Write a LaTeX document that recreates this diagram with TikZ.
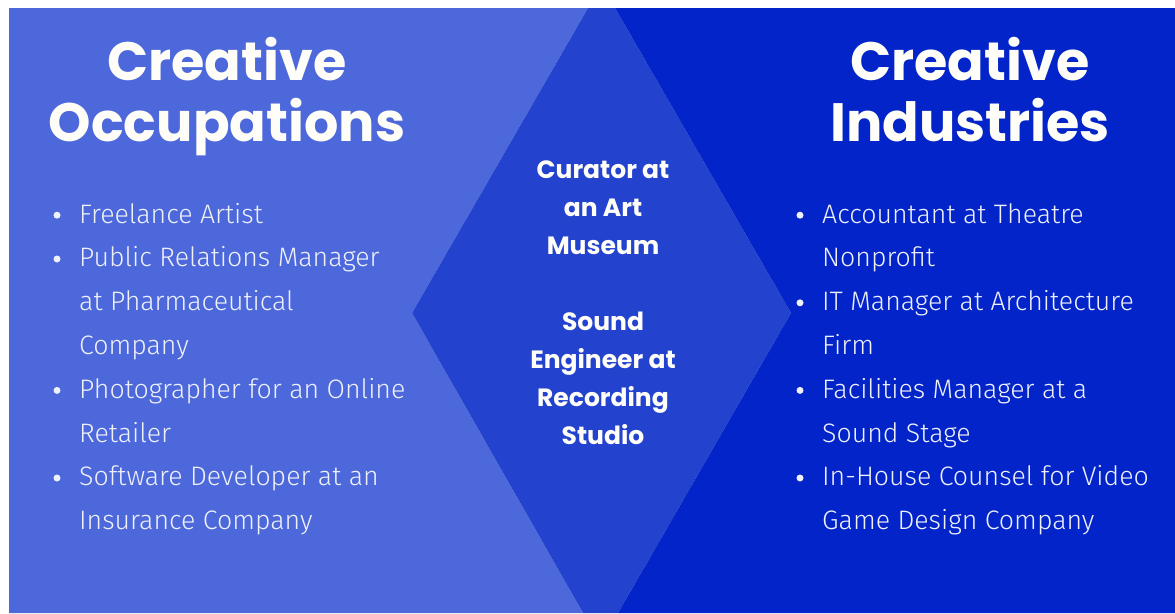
\documentclass[tikz,border=0pt]{standalone}
\usepackage{fontspec}
\setmainfont{Fira Sans}
\newfontfamily\lightfont{Fira Sans Light}
\newfontfamily\headfont{Poppins}
\usetikzlibrary{calc}
\definecolor{occblue}{HTML}{4C68DA}
\definecolor{midblue}{HTML}{2343CF}
\definecolor{indblue}{HTML}{0224C8}
\definecolor{lettering}{HTML}{FFFDF8}
\definecolor{listtext}{HTML}{EEF0FA}
\tikzstyle{heading}=[inner sep=0, anchor=north, align=center, text=lettering, font=\headfont\bfseries\fontsize{54}{56}\selectfont]
\tikzstyle{overlap}=[inner sep=0, anchor=north, align=center, text=lettering, font=\headfont\bfseries\fontsize{25}{38}\selectfont]
\tikzstyle{itemtext}=[inner sep=0, anchor=north west, align=left, text=listtext, font=\lightfont\fontsize{26.7}{43.8}\selectfont]
\newcommand{\listitem}[4]{
 \node[itemtext] (#1) at (#2,{192.2+43.8*#3}) {\strut #4};
 \fill[listtext] ($(#1.north west)+(-22,23)$) circle (3.5pt);
}
\begin{document}
\begin{tikzpicture}[x=1pt,y=-1pt]
 \useasboundingbox (0,0) rectangle (1175,613);
 \fill[white] (0,0) rectangle (1175,613);
 \fill[occblue] (9,8) -- (588,8) -- (412,313) -- (583,613) -- (9,613) -- cycle;
 \fill[midblue] (588,8) -- (615,8) -- (791,313) -- (618,613) -- (583,613) -- (412,313) -- cycle;
 \fill[indblue] (615,8) -- (1175,8) -- (1175,613) -- (618,613) -- (791,313) -- cycle;
%
 \node[heading] (occtitle) at (227,37) {\strut Creative\\Occupations};
 \node[heading] (indtitle) at (970,37) {\strut Creative\\Industries};
%
 \node[overlap] (both) at (603,151.4) {\strut Curator at\\an Art\\Museum\\[38pt]Sound\\Engineer at\\Recording\\Studio};
%
 \listitem{occa}{79}{0}{Freelance Artist}
 \listitem{occb}{79}{1}{Public Relations Manager\\at Pharmaceutical\\Company}
 \listitem{occc}{79}{4}{Photographer for an Online\\Retailer}
 \listitem{occd}{79}{6}{Software Developer at an\\Insurance Company}
%
 \listitem{inda}{822}{0}{Accountant at Theatre\\Nonprofit}
 \listitem{indb}{822}{2}{IT Manager at Architecture\\Firm}
 \listitem{indc}{822}{4}{Facilities Manager at a\\Sound Stage}
 \listitem{indd}{822}{6}{In-House Counsel for Video\\Game Design Company}
\end{tikzpicture}
\end{document}
